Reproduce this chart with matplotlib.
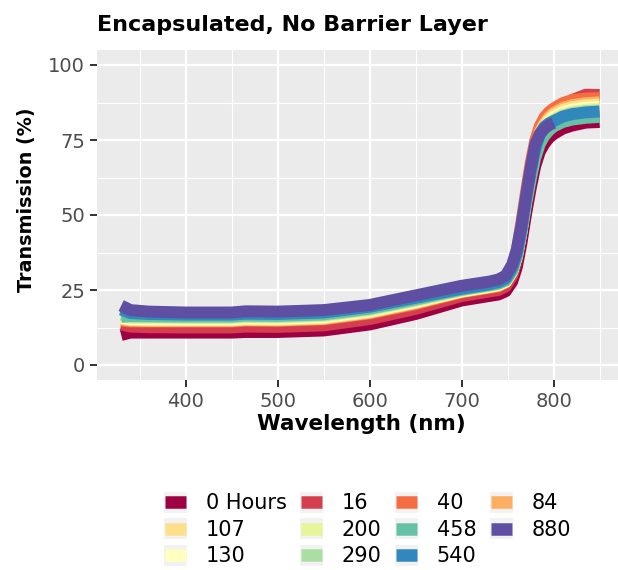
import matplotlib
matplotlib.use("Agg")
import matplotlib.pyplot as plt
from matplotlib.lines import Line2D
from matplotlib.patches import Rectangle
from matplotlib.legend_handler import HandlerBase

# wavelength grid (nm) shared by all series, 880 h stops at 800 nm
wavelength = [330, 340, 360, 400, 450, 465, 500, 550, 600, 650, 700, 730,
              740, 748, 755, 760, 765, 770, 775, 780, 785, 790, 795, 800,
              810, 820, 835, 850]

# transmission (%) per exposure time
t_0 = [10.0, 10.8, 10.8, 10.8, 10.8, 11.0, 11.0, 11.5, 13.5, 17.0, 21.5, 23.0,
       23.5, 24.6, 27.8, 32.6, 40.6, 50.3, 58.8, 66.3, 71.1, 73.8, 75.7, 77.0,
       78.8, 79.8, 80.8, 81.0]
t_16 = [13.5, 12.8, 12.6, 12.5, 12.5, 12.8, 12.7, 13.2, 15.3, 18.7, 23.0, 24.5,
        25.0, 26.2, 29.7, 35.0, 43.9, 54.5, 63.9, 72.2, 77.5, 80.5, 82.5, 84.0,
        86.5, 88.3, 90.1, 90.0]
t_40 = [14.8, 14.5, 14.5, 14.5, 14.5, 14.8, 14.7, 15.2, 17.2, 20.3, 24.2, 25.7,
        26.2, 28.0, 32.1, 38.1, 47.5, 57.6, 67.1, 74.8, 79.6, 82.5, 84.3, 85.5,
        87.3, 88.3, 88.8, 89.0]
t_84 = [15.2, 14.8, 14.7, 14.7, 14.7, 15.0, 14.9, 15.4, 17.4, 20.6, 24.4, 25.9,
        26.4, 27.6, 31.0, 36.2, 44.8, 55.2, 64.4, 72.5, 77.7, 80.5, 82.6, 84.0,
        85.7, 86.6, 87.3, 87.6]
t_107 = [15.5, 15.0, 14.9, 14.9, 14.9, 15.2, 15.1, 15.6, 17.6, 20.8, 24.5, 26.0,
         26.6, 27.7, 31.1, 36.2, 44.7, 55.0, 64.0, 72.0, 77.1, 79.9, 81.9, 83.3,
         85.0, 85.9, 86.6, 86.9]
t_130 = [15.8, 15.3, 15.2, 15.2, 15.2, 15.5, 15.4, 15.9, 17.9, 21.0, 24.6, 26.1,
         26.7, 27.8, 31.2, 36.2, 44.6, 54.6, 63.5, 71.3, 76.4, 79.1, 81.1, 82.5,
         84.2, 85.1, 85.7, 86.0]
t_200 = [16.3, 15.7, 15.6, 15.6, 15.6, 15.9, 15.8, 16.3, 18.2, 21.3, 24.8, 26.3,
         26.9, 28.0, 31.3, 36.3, 44.5, 54.5, 63.3, 71.0, 75.9, 78.7, 80.6, 82.0,
         83.6, 84.5, 85.1, 85.4]
t_290 = [16.8, 16.1, 16.0, 15.9, 15.9, 16.2, 16.1, 16.6, 18.5, 21.6, 25.0, 26.5,
         27.1, 28.2, 31.5, 36.3, 44.5, 54.3, 63.0, 70.6, 75.5, 78.2, 80.1, 81.5,
         83.1, 84.0, 84.6, 84.9]
t_458 = [16.0, 16.3, 16.3, 16.2, 16.2, 16.5, 16.4, 16.9, 18.8, 21.9, 25.1, 26.6,
         27.2, 28.2, 31.4, 36.1, 43.9, 53.4, 61.7, 69.0, 73.7, 76.4, 78.2, 79.5,
         81.0, 81.8, 82.4, 82.7]
t_540 = [18.5, 17.3, 17.0, 16.8, 16.8, 17.1, 17.0, 17.5, 19.4, 22.4, 25.4, 26.9,
         27.6, 28.8, 32.4, 37.2, 45.3, 55.6, 64.5, 72.1, 76.9, 79.4, 80.6, 81.3,
         82.8, 83.6, 84.2, 84.5]
t_880 = [19.8, 18.3, 17.8, 17.5, 17.5, 17.9, 17.8, 18.3, 20.0, 23.2, 26.4, 27.8,
         28.5, 29.8, 33.5, 38.5, 46.5, 56.0, 65.5, 73.5, 77.0, 78.8, 80.0, 80.7]

labels = ["0 Hours", "16", "40", "84", "107", "130", "200", "290", "458", "540", "880"]
series = [t_0, t_16, t_40, t_84, t_107, t_130, t_200, t_290, t_458, t_540, t_880]
colors = ["#9E0142", "#D53E4F", "#F46D43", "#FDAE61", "#FEE08B", "#FFFFBF",
          "#E6F598", "#ABDDA4", "#66C2A5", "#3288BD", "#5E4FA2"]
# legend uses text sorting of the levels, like the original
legend_order = ["0 Hours", "107", "130", "16", "200", "290", "40", "458", "540", "84", "880"]


class KeyHandler(HandlerBase):
    # grey key background with a thick colour bar, like ggplot keys
    def create_artists(self, legend, orig_handle, xdescent, ydescent,
                       width, height, fontsize, trans):
        cy = height / 2 - ydescent
        bg = Rectangle((-xdescent - 1, cy - 7.5), width + 2, 15,
                       facecolor="#F2F2F2", edgecolor="none", transform=trans)
        bar = Line2D([-xdescent, width - xdescent], [cy, cy],
                     color=orig_handle.get_color(), lw=9,
                     solid_capstyle="butt", transform=trans)
        return [bg, bar]


fig = plt.figure(figsize=(6.18, 5.7), dpi=100)
ax = fig.add_axes([97 / 618, 190 / 570, 521 / 618, 330 / 570])
ax.set_facecolor("#EBEBEB")
for sp in ax.spines.values():
    sp.set_visible(False)

lines = {}
for lab, vals, col in zip(labels, series, colors):
    ln, = ax.plot(wavelength[:len(vals)], vals, color=col, lw=8.6,
                  solid_capstyle="butt", solid_joinstyle="round")
    lines[lab] = ln

ax.set_xlim(303.7, 870)
ax.set_ylim(-5, 105)
ax.set_xticks([400, 500, 600, 700, 800])
ax.set_xticks([350, 450, 550, 650, 750, 850], minor=True)
ax.set_yticks([0, 25, 50, 75, 100])
ax.set_yticks([12.5, 37.5, 62.5, 87.5], minor=True)
ax.grid(which="major", color="white", lw=1.6)
ax.grid(which="minor", color="white", lw=0.8)
ax.set_axisbelow(True)
ax.tick_params(which="major", length=5, width=1.4, color="#333333",
               labelcolor="#4D4D4D", labelsize=14, pad=3.5)
ax.tick_params(which="minor", length=0)

ax.set_xlabel("Wavelength (nm)", fontsize=15.5, fontweight="bold", va="baseline")
ax.xaxis.set_label_coords(0.507, -0.152)
ax.set_ylabel("Transmission (%)", fontsize=13.8, fontweight="bold", va="center")
ax.yaxis.set_label_coords(-0.136, 0.545)

fig.text(97 / 618, 1 - 31 / 570, "Encapsulated, No Barrier Layer",
         fontsize=16, fontweight="bold", ha="left", va="baseline")

fig.legend([lines[k] for k in legend_order], legend_order,
           loc="upper left", bbox_to_anchor=(165 / 618, 1 - 493 / 570),
           ncol=4, frameon=False, fontsize=15, handlelength=1.0,
           handleheight=1.0, handletextpad=0.95, columnspacing=0.7,
           labelspacing=0.29, borderpad=0, borderaxespad=0,
           handler_map={Line2D: KeyHandler()})

fig.savefig("out.png", dpi=100)
